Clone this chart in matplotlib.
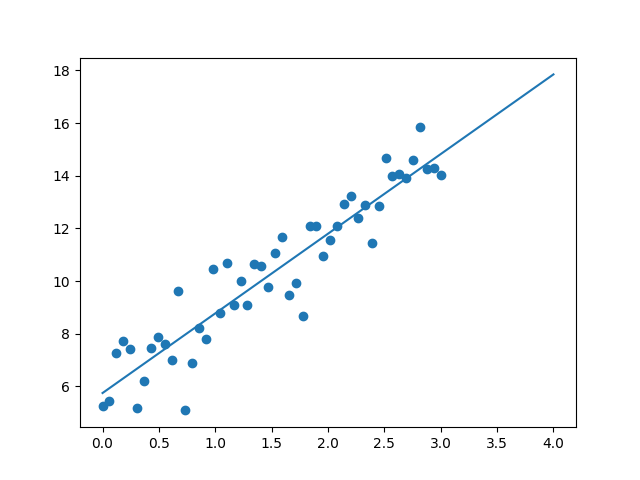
import matplotlib
matplotlib.use("Agg")
import matplotlib.pyplot as plt
import numpy as np

# points (x evenly spaced 0..3, 50 points)
x = np.linspace(0, 3, 50)
y = [5.27, 5.43, 7.26, 7.71, 7.41, 5.20, 6.19, 7.45, 7.87, 7.60,
     6.99, 9.62, 5.09, 6.88, 8.21, 7.79, 10.46, 8.78, 10.69, 9.09,
     10.00, 9.09, 10.65, 10.57, 9.77, 11.07, 11.68, 9.47, 9.92, 8.67,
     12.10, 12.10, 10.95, 11.56, 12.10, 12.93, 13.24, 12.40, 12.90, 11.45,
     12.86, 14.69, 14.00, 14.08, 13.92, 14.61, 15.87, 14.27, 14.30, 14.04]

# fitted line endpoints
line_x = [0, 4]
line_y = [5.75, 17.85]

fig, ax = plt.subplots(figsize=(6.4, 4.8), dpi=100)
ax.scatter(x, y)
ax.plot(line_x, line_y)
fig.savefig("out.png")
